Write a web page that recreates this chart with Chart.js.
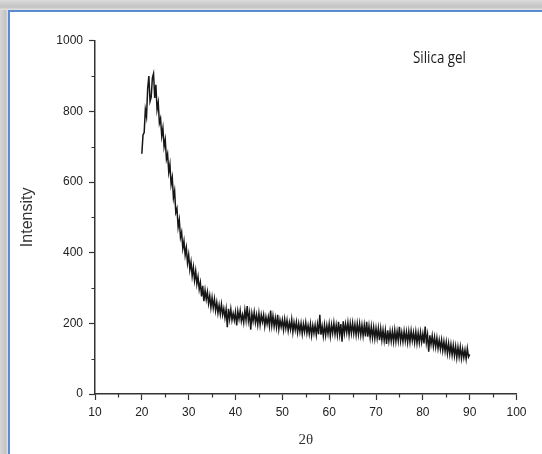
<!DOCTYPE html>
<html><head><meta charset="utf-8">
<script src="https://cdn.jsdelivr.net/npm/chart.js@4/dist/chart.umd.min.js"></script>
<style>
html,body{margin:0;padding:0;width:542px;height:454px;overflow:hidden;background:#fff;position:relative;}
#shadeL{position:absolute;left:0;top:0;width:8px;height:454px;background:linear-gradient(to right,#d6d6d6,#c4c4c4 70%,#e4e4e4);}
#shadeT{position:absolute;left:0;top:0;width:542px;height:10px;background:linear-gradient(to bottom,#dcdcdc,#c2c2c2 70%,#e4e4e4);}
#box{position:absolute;left:8px;top:10px;right:0;bottom:0;border-left:2px solid #5b8bd0;border-top:2px solid #5b8bd0;background:#fff;}
#c{position:absolute;left:0;top:0;}
</style>
</head><body>
<div id="shadeL"></div><div id="shadeT"></div><div id="box"></div>
<canvas id="c" width="542" height="454"></canvas>
<script>
// Sampling grid of the scan (2θ, degrees)
const angleStart = 20;
const angleStep = 0.25;
// Intensity, 4 samples per degree from 20° to 90°
const intensity = [
/*20*/ 680,733,740,805,
/*21*/ 785,865,900,828,
/*22*/ 840,895,907,838,
/*23*/ 875,805,825,767,
/*24*/ 780,730,753,700,
/*25*/ 720,665,680,628,
/*26*/ 650,593,613,555,
/*27*/ 575,514,525,472,
/*28*/ 493,443,458,412,
/*29*/ 433,393,414,371,
/*30*/ 394,352,374,334,
/*31*/ 359,322,348,311,
/*32*/ 332,296,315,276,
/*33*/ 306,263,294,268,
/*34*/ 289,256,278,245,
/*35*/ 273,244,269,236,
/*36*/ 259,229,252,226,
/*37*/ 254,224,242,216,
/*38*/ 240,189,241,212,
/*39*/ 240,209,228,209,
/*40*/ 232,194,234,212,
/*41*/ 236,206,224,202,
/*42*/ 237,209,249,207,
/*43*/ 230,182,228,206,
/*44*/ 232,202,224,196,
/*45*/ 228,196,224,204,
/*46*/ 224,192,218,198,
/*47*/ 218,192,236,194,
/*48*/ 221,191,215,189,
/*49*/ 224,184,210,190,
/*50*/ 210,182,212,186,
/*51*/ 209,179,203,183,
/*52*/ 211,175,203,181,
/*53*/ 204,174,200,176,
/*54*/ 200,170,198,176,
/*55*/ 202,172,194,170,
/*56*/ 198,166,194,172,
/*57*/ 195,167,197,169,
/*58*/ 224,168,192,164,
/*59*/ 196,166,194,170,
/*60*/ 198,164,196,172,
/*61*/ 201,169,195,167,
/*62*/ 204,168,198,148,
/*63*/ 206,172,198,174,
/*64*/ 202,168,200,172,
/*65*/ 201,171,197,167,
/*66*/ 199,169,199,167,
/*67*/ 195,165,195,163,
/*68*/ 204,162,192,160,
/*69*/ 191,159,189,157,
/*70*/ 186,158,186,152,
/*71*/ 185,153,181,151,
/*72*/ 180,142,180,150,
/*73*/ 178,150,178,148,
/*74*/ 181,149,177,151,
/*75*/ 190,150,174,148,
/*76*/ 178,150,176,146,
/*77*/ 177,147,179,151,
/*78*/ 174,146,176,144,
/*79*/ 173,145,175,147,
/*80*/ 171,143,191,145,
/*81*/ 168,120,166,140,
/*82*/ 165,135,161,133,
/*83*/ 159,129,153,127,
/*84*/ 153,123,149,121,
/*85*/ 147,115,143,113,
/*86*/ 140,110,138,108,
/*87*/ 135,103,133,105,
/*88*/ 133,101,127,103,
/*89*/ 125,99,129,105,
/*90*/ 112
];
const xTicks = [10,20,30,40,50,60,70,80,90,100];
const yTicks = [0,200,400,600,800,1000];
const xMinorTicks = [15,25,35,45,55,65,75,85,95];
const yMinorTicks = [100,300,500,700,900];
const sampleLabel = 'Silica gel';
const xTitle = '2θ';
const yTitle = 'Intensity';

const points = intensity.map((v, i) => ({x: angleStart + i * angleStep, y: v}));

const minorTickPlugin = {
  id: 'minorTicks',
  afterDraw(chart) {
    const {ctx, scales: {x, y}, chartArea} = chart;
    ctx.save();
    ctx.strokeStyle = '#333';
    ctx.lineWidth = 1.2;
    ctx.beginPath();
    xMinorTicks.forEach(v => {
      const px = Math.round(x.getPixelForValue(v)) + 0.5;
      ctx.moveTo(px, chartArea.bottom);
      ctx.lineTo(px, chartArea.bottom + 3.5);
    });
    yMinorTicks.forEach(v => {
      const py = Math.round(y.getPixelForValue(v)) + 0.5;
      ctx.moveTo(chartArea.left - 3.5, py);
      ctx.lineTo(chartArea.left, py);
    });
    ctx.stroke();
    ctx.restore();
  }
};

const labelPlugin = {
  id: 'sampleLabel',
  afterDraw(chart) {
    const ctx = chart.ctx;
    ctx.save();
    ctx.font = '15px "Open Sans", sans-serif';
    ctx.fillStyle = '#1a1a1a';
    ctx.textBaseline = 'alphabetic';
    const w = ctx.measureText(sampleLabel).width;
    ctx.translate(413, 63);
    ctx.scale(53 / w, 1.1);
    ctx.fillText(sampleLabel, 0, 0);
    ctx.restore();
  }
};

new Chart(document.getElementById('c'), {
  type: 'line',
  data: {
    datasets: [{
      data: points,
      borderColor: '#161616',
      borderWidth: 1.5,
      pointRadius: 0,
      tension: 0,
      fill: false
    }]
  },
  options: {
    responsive: false,
    animation: false,
    devicePixelRatio: 1,
    layout: {padding: {left: 0, right: 25.5, top: 40.7, bottom: 0}},
    plugins: {legend: {display: false}, tooltip: {enabled: false}},
    scales: {
      x: {
        type: 'linear',
        min: 10, max: 100,
        afterBuildTicks: s => { s.ticks = xTicks.map(v => ({value: v})); },
        afterFit: s => { s.height = 60; },
        grid: {drawOnChartArea: false, drawTicks: true, tickLength: 6, tickColor: '#333', tickWidth: 1.2},
        border: {display: true, color: '#333', width: 1.5},
        ticks: {color: '#222', font: {family: '"Liberation Sans", Arial, sans-serif', size: 12}, padding: 5, maxRotation: 0, callback: v => String(v)},
        title: {display: true, text: xTitle, color: '#333', font: {family: '"Liberation Serif", "Times New Roman", serif', size: 15}, padding: {top: 0, bottom: 5}}
      },
      y: {
        min: 0, max: 1000,
        afterBuildTicks: s => { s.ticks = yTicks.map(v => ({value: v})); },
        afterFit: s => { s.width = 95; },
        grid: {drawOnChartArea: false, drawTicks: true, tickLength: 6, tickColor: '#333', tickWidth: 1.2},
        border: {display: true, color: '#333', width: 1.5},
        ticks: {color: '#222', font: {family: '"Liberation Sans", Arial, sans-serif', size: 12}, padding: 6, callback: v => String(v)},
        title: {display: true, text: yTitle, color: '#333', font: {family: '"Liberation Sans", Arial, sans-serif', size: 16}, padding: {top: 18, bottom: 0}}
      }
    }
  },
  plugins: [minorTickPlugin, labelPlugin]
});
</script>
</body></html>
